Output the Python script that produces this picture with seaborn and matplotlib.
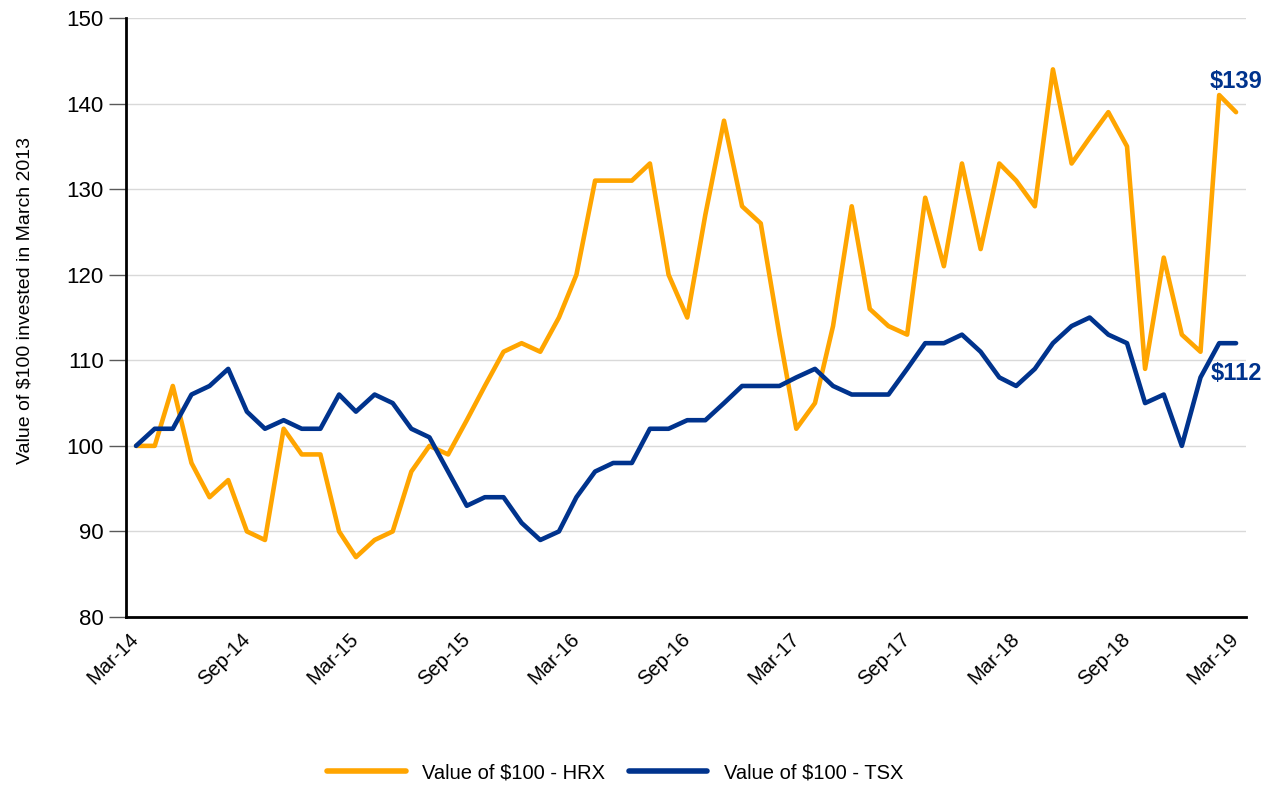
import pandas as pd
import numpy as np
import seaborn as sns
import matplotlib.pyplot as plt

# monthly values, Mar-14 .. Mar-19
months = pd.date_range("2014-03-01", periods=61, freq="MS")
hrx = [100, 100, 107, 98, 94, 96, 90, 89, 102, 99, 99, 90, 87, 89, 90, 97, 100, 99,
       103, 107, 111, 112, 111, 115, 120, 131, 131, 131, 133, 120, 115, 127, 138, 128,
       126, 113, 102, 105, 114, 128, 116, 114, 113, 129, 121, 133, 123, 133, 131, 128,
       144, 133, 136, 139, 135, 109, 122, 113, 111, 141, 139]
tsx = [100, 102, 102, 106, 107, 109, 104, 102, 103, 102, 102, 106, 104, 106, 105, 102,
       101, 97, 93, 94, 94, 91, 89, 90, 94, 97, 98, 98, 102, 102, 103, 103, 105, 107,
       107, 107, 108, 109, 107, 106, 106, 106, 109, 112, 112, 113, 111, 108, 107, 109,
       112, 114, 115, 113, 112, 105, 106, 100, 108, 112, 112]
series_names = ["Value of $100 - HRX", "Value of $100 - TSX"]
tick_labels = ["Mar-14", "Sep-14", "Mar-15", "Sep-15", "Mar-16", "Sep-16",
               "Mar-17", "Sep-17", "Mar-18", "Sep-18", "Mar-19"]
end_labels = ["$139", "$112"]

orange = "#FFA500"
navy = "#00338D"

df = pd.DataFrame({"Month": months, series_names[0]: hrx, series_names[1]: tsx})
long_df = df.melt(id_vars="Month", var_name="Series", value_name="Value")

sns.set_style("white")
plt.rcParams["font.family"] = ["Liberation Sans", "DejaVu Sans"]
plt.rcParams["text.color"] = "black"
plt.rcParams["axes.labelcolor"] = "black"

fig = plt.figure(figsize=(12.72, 7.88), dpi=100)
ax = fig.add_axes([0.0991, 0.217, 0.8805, 0.7601])

sns.lineplot(data=long_df, x="Month", y="Value", hue="Series",
             palette=[orange, navy], linewidth=3.3, ax=ax)

ax.set_xlim(months[0] - pd.Timedelta(days=16.6), months[-1] + pd.Timedelta(days=16.6))
ax.set_ylim(80, 150)
ax.set_yticks(np.arange(80, 151, 10))
ax.set_xticks(months[::6])
ax.set_xticklabels(tick_labels, rotation=45, ha="right", va="center",
                   rotation_mode="anchor")
ax.grid(axis="y", color="#d9d9d9", linewidth=1)
ax.grid(axis="x", visible=False)

for side in ["top", "right"]:
    ax.spines[side].set_visible(False)
for side in ["left", "bottom"]:
    ax.spines[side].set_color("black")
    ax.spines[side].set_linewidth(2)

ax.tick_params(axis="y", length=12, width=1, color="#595959", pad=4,
               labelsize=16, left=True, labelcolor="black")
ax.tick_params(axis="x", length=0, pad=14, labelsize=14.5, labelcolor="black")

ax.set_xlabel("")
ax.set_ylabel("Value of $100 invested in March 2013", fontsize=14)
ax.yaxis.set_label_coords(-0.083, 0.529)

# end-point labels
ax.annotate(end_labels[0], xy=(months[-1], hrx[-1]), xytext=(0, 22),
            textcoords="offset points", ha="center", va="center",
            fontsize=17, fontweight="bold", color=navy)
ax.annotate(end_labels[1], xy=(months[-1], tsx[-1]), xytext=(0, -22),
            textcoords="offset points", ha="center", va="center",
            fontsize=17, fontweight="bold", color=navy)

handles, labels = ax.get_legend_handles_labels()
ax.get_legend().remove()
for h in handles:
    h.set_linewidth(4)
fig.legend(handles, labels, loc="center", bbox_to_anchor=(615 / 1272, 1 - 773 / 788),
           ncol=2, frameon=False, handlelength=3.9, handletextpad=0.8,
           columnspacing=1.2, prop={"size": 14.5})

fig.savefig("out.png", dpi=100)
